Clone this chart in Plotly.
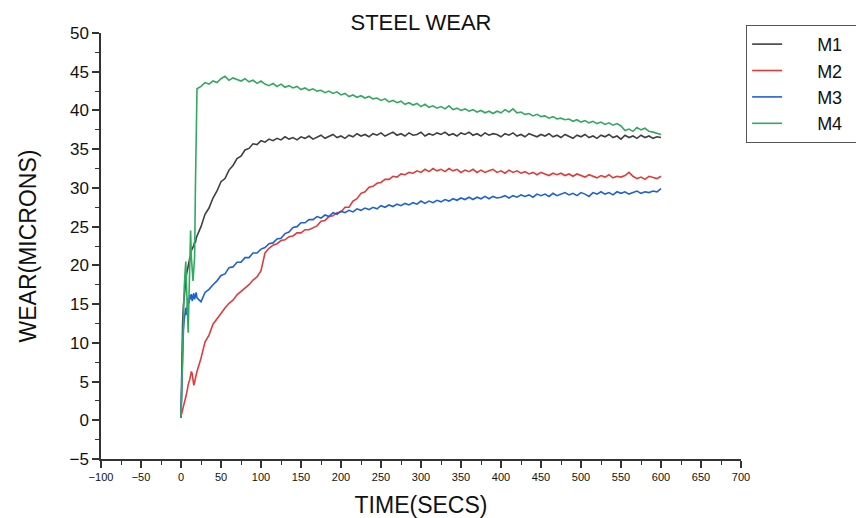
import plotly.graph_objects as go

# Sample times (s): 1 s steps over the run-in, then every 5 s
time_s = list(range(0, 21)) + list(range(25, 601, 5))

# Wear readings (microns) for the four materials
m1 = [0.5, 9.0, 12.5, 14.8, 16.2, 17.4, 18.0, 18.9, 19.3, 19.8, 20.4,
      21.0, 21.2, 21.9, 22.1, 22.5, 22.6, 23.0, 22.9, 23.5, 23.8,
      25.0, 26.6, 27.4, 28.7, 29.6, 30.8, 31.2, 32.3, 32.9, 33.8,
      34.1, 34.9, 35.1, 35.7, 35.6, 36.1, 35.9, 36.3, 36.1, 36.4,
      36.2, 36.6, 36.3, 36.5, 36.2, 36.6, 36.4, 36.7, 36.3, 36.5,
      36.8, 36.4, 36.6, 36.9, 36.5, 36.7, 36.4, 36.8, 36.6, 37.0,
      36.7, 36.9, 36.6, 37.0, 36.8, 37.1, 36.7, 36.9, 37.2, 36.8,
      37.0, 36.7, 37.1, 36.8, 36.9, 37.2, 36.7, 37.0, 36.8, 37.1,
      36.9, 37.2, 36.8, 37.0, 36.7, 37.1, 36.9, 37.2, 36.8, 37.0,
      36.7, 37.1, 36.8, 37.0, 36.9, 36.6, 37.0, 36.8, 37.1, 36.7,
      36.9, 36.6, 37.0, 36.8, 36.6, 36.9, 36.7, 37.0, 36.6, 36.8,
      36.5, 36.9, 36.7, 36.4, 36.8, 36.6, 36.9, 36.5, 36.7, 36.4,
      36.8, 36.6, 36.9, 36.5, 36.7, 36.3, 36.8, 36.5, 36.7, 36.4,
      36.8, 36.5, 36.7, 36.4, 36.6, 36.5]

m2 = [0.5, 1.0, 1.5, 1.8, 2.2, 2.6, 3.0, 3.4, 4.0, 4.6, 4.9,
      5.3, 5.8, 6.3, 6.0, 5.0, 4.5, 4.9, 5.6, 5.9, 6.3,
      8.0, 10.1, 11.0, 12.4, 13.1, 13.9, 14.5, 15.1, 15.5, 16.2,
      16.6, 17.1, 17.5, 18.1, 18.5, 19.3, 21.6, 22.2, 22.6, 22.8,
      23.2, 23.3, 23.7, 23.8, 24.2, 24.2, 24.6, 24.6, 24.9, 25.1,
      25.7, 25.8, 26.3, 26.4, 26.8, 26.9, 27.5, 27.5, 28.3, 28.6,
      29.3, 29.5, 30.1, 30.2, 30.6, 30.7, 31.1, 31.1, 31.5, 31.4,
      31.8, 31.7, 32.0, 31.9, 32.2, 32.0, 32.4, 32.1, 32.5, 32.2,
      32.4, 32.1, 32.5, 32.2, 32.4, 32.0, 32.3, 32.1, 32.4, 32.0,
      32.3, 32.0, 32.2, 32.4, 32.0, 32.2, 31.9, 32.3, 32.0, 32.2,
      31.9, 32.1, 31.8, 32.0, 31.7, 32.0, 31.8, 31.6, 31.9, 31.7,
      31.9, 31.6, 31.8, 31.5, 31.8, 31.6, 31.4, 31.7, 31.5, 31.3,
      31.6, 31.4, 31.7, 31.3, 31.5, 31.4, 31.6, 32.0, 31.5, 31.2,
      31.4, 31.1, 31.5, 31.3, 31.2, 31.5]

m3 = [0.3, 5.0, 9.0, 11.5, 13.0, 13.8, 14.5, 13.6, 15.2, 15.8, 15.1,
      16.2, 15.6, 16.3, 15.4, 15.9, 16.4, 15.6, 16.1, 16.5, 15.8,
      15.3, 16.5, 16.9, 17.5, 18.0, 18.7, 18.9, 19.7, 19.8, 20.4,
      20.4, 21.0, 21.0, 21.6, 21.6, 22.1, 22.3, 22.8, 22.9, 23.4,
      23.5, 24.1, 24.3, 24.9, 25.0, 25.5, 25.5, 25.9, 25.9, 26.3,
      26.1, 26.5, 26.3, 26.8, 26.6, 27.0, 26.8, 27.1, 26.9, 27.3,
      27.1, 27.4, 27.2, 27.5, 27.3, 27.7, 27.5, 27.8, 27.6, 27.9,
      27.7, 28.0, 27.8, 28.1, 27.9, 28.3, 28.0, 28.3, 28.1, 28.4,
      28.2, 28.5, 28.3, 28.6, 28.4, 28.7, 28.5, 28.8, 28.5, 28.8,
      28.6, 28.9, 28.6, 28.9, 28.7, 28.8, 29.0, 28.7, 29.0, 28.8,
      29.1, 28.9, 29.1, 28.8, 29.2, 29.0, 29.2, 28.9, 29.3, 29.0,
      29.2, 29.4, 29.1, 29.3, 29.0, 29.4, 29.2, 28.9, 29.4, 29.2,
      29.5, 29.2, 29.4, 29.1, 29.5, 29.3, 29.5, 29.2, 29.4, 29.6,
      29.3, 29.5, 29.4, 29.6, 29.5, 29.9]

m4 = [0.5, 5.0, 10.0, 14.0, 17.0, 19.0, 20.5, 17.0, 14.0, 11.3, 16.0,
      20.0, 24.5, 21.0, 18.5, 18.0, 19.5, 21.0, 30.0, 42.0, 42.8,
      43.1, 43.6, 43.4, 43.8, 43.6, 44.1, 44.4, 43.9, 44.2, 44.0,
      43.8, 44.1, 43.7, 43.9, 43.5, 43.8, 43.4, 43.2, 43.5, 43.1,
      43.4, 43.0, 43.2, 42.9, 43.1, 42.7, 42.9, 42.6, 42.8, 42.5,
      42.6, 42.3, 42.5, 42.2, 42.4, 42.0, 42.2, 41.8, 42.0, 41.7,
      41.9, 41.6, 41.8, 41.5, 41.6, 41.3, 41.5, 41.1, 41.3, 41.0,
      41.2, 40.8, 41.0, 40.7, 40.9, 40.5, 40.8, 40.4, 40.6, 40.3,
      40.5, 40.2, 40.6, 40.1, 40.3, 40.0, 40.2, 39.9, 40.1, 39.8,
      40.0, 39.7, 39.9, 39.6, 39.9, 39.7, 40.1, 39.8, 40.2, 39.7,
      39.8, 39.5, 39.6, 39.3, 39.5, 39.2, 39.3, 39.0, 39.2, 38.9,
      39.0, 38.8, 38.9, 38.6, 38.8, 38.5, 38.7, 38.4, 38.6, 38.3,
      38.5, 38.2, 38.4, 38.1, 38.3, 38.0, 37.4, 37.6, 37.3, 37.8,
      37.5, 37.7, 37.3, 37.2, 37.0, 36.9]

series = [
    ("M1", m1, "#3f3f3f"),
    ("M2", m2, "#e03c3c"),
    ("M3", m3, "#1f61d4"),
    ("M4", m4, "#34a862"),
]

FONT = "Liberation Sans, Arial, sans-serif"
AXIS_COLOR = "#333333"
NBSP = "\u00a0"

fig = go.Figure()
for name, values, color in series:
    fig.add_trace(go.Scatter(
        x=time_s, y=values, mode="lines",
        name=NBSP * 6 + name + NBSP * 3,
        line=dict(color=color, width=1.6),
    ))

fig.update_layout(
    width=856, height=518,
    margin=dict(l=101, r=115, t=33, b=59, autoexpand=False),
    paper_bgcolor="white", plot_bgcolor="white",
    font=dict(family=FONT, color="#111111"),
    title=dict(text="STEEL WEAR", x=0.5, xref="paper", xanchor="center",
               y=1 - 22 / 518, yref="container", yanchor="middle",
               font=dict(size=22, family=FONT, color="#111111")),
    showlegend=True,
    legend=dict(x=1.008, y=1.019, xanchor="left", yanchor="top",
                bordercolor="#555555", borderwidth=1, bgcolor="white",
                font=dict(size=18, family=FONT, color="#111111"),
                tracegroupgap=0),
)

fig.update_xaxes(
    range=[-100, 700], dtick=50, tick0=0,
    showgrid=False, zeroline=False,
    showline=True, linecolor=AXIS_COLOR, linewidth=1.5,
    ticks="outside", ticklen=7, tickwidth=1.5, tickcolor=AXIS_COLOR,
    tickfont=dict(size=11, family=FONT, color="#111111"),
    minor=dict(dtick=25, ticks="outside", ticklen=4, tickwidth=1.2,
               tickcolor=AXIS_COLOR, showgrid=False),
    title=dict(text="TIME(SECS)", standoff=15,
               font=dict(size=23, family=FONT, color="#111111")),
)

fig.update_yaxes(
    range=[-5, 50], dtick=5, tick0=0,
    showgrid=False, zeroline=False,
    showline=True, linecolor=AXIS_COLOR, linewidth=1.5,
    ticks="outside", ticklen=7, tickwidth=1.5, tickcolor=AXIS_COLOR,
    tickfont=dict(size=17, family=FONT, color="#111111"),
    minor=dict(dtick=2.5, ticks="outside", ticklen=4, tickwidth=1.2,
               tickcolor=AXIS_COLOR, showgrid=False),
    title=dict(text="WEAR(MICRONS)", standoff=26,
               font=dict(size=23, family=FONT, color="#111111")),
)

fig.write_html("out.html")
